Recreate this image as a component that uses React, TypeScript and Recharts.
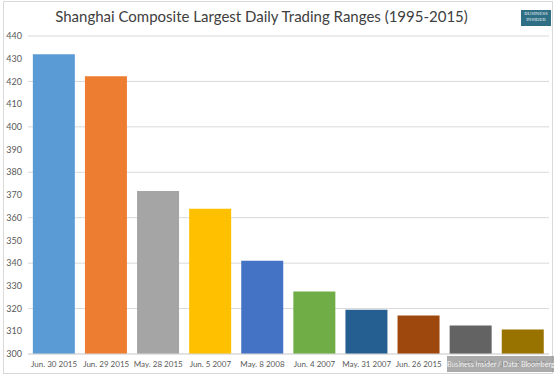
import React from "react";
import { BarChart, Bar, XAxis, YAxis, CartesianGrid, Cell } from "recharts";

const categories = [
  "Jun. 30 2015",
  "Jun. 29 2015",
  "May. 28 2015",
  "Jun. 5 2007",
  "May. 8 2008",
  "Jun. 4 2007",
  "May. 31 2007",
  "Jun. 26 2015",
  "Jun. 19 2015",
  "Jan. 19 2015",
];
const ranges = [432, 422.3, 371.8, 364, 341, 327.5, 319.5, 317, 312.6, 310.8];
const yTicks = [300, 310, 320, 330, 340, 350, 360, 370, 380, 390, 400, 410, 420, 430, 440];
const barColors = [
  "#5B9BD5",
  "#ED7D31",
  "#A5A5A5",
  "#FFC000",
  "#4472C4",
  "#70AD47",
  "#255E91",
  "#9E480E",
  "#636363",
  "#997300",
];

const data = categories.map((name, i) => ({ name, value: ranges[i] }));

const FONT = "Lato, 'Open Sans', sans-serif";

export default function App() {
  return (
    <div
      style={{
        position: "fixed",
        left: 0,
        top: 0,
        width: 560,
        height: 377,
        background: "#fff",
        fontFamily: FONT,
      }}
    >
      <div
        style={{
          position: "absolute",
          left: 3,
          top: 1,
          width: 548,
          height: 371,
          border: "1px solid #d9d9d9",
        }}
      />
      <div
        style={{
          position: "absolute",
          left: 0,
          width: 523,
          top: 7,
          textAlign: "center",
          fontSize: 15,
          color: "#404040",
        }}
      >
        Shanghai Composite Largest Daily Trading Ranges (1995-2015)
      </div>
      <div
        style={{
          position: "absolute",
          left: 521,
          top: 10,
          width: 30,
          height: 16,
          background: "#2f6f85",
          color: "#e8f0f4",
          fontFamily: "'Liberation Serif', serif",
          fontSize: 5,
          lineHeight: "5.5px",
          textAlign: "center",
          paddingTop: 1,
          boxSizing: "border-box",
        }}
      >
        BUSINESS
        <br />
        INSIDER
      </div>
      <div style={{ position: "absolute", left: 0, top: 0 }}>
        <BarChart
          width={560}
          height={377}
          data={data}
          margin={{ top: 36, right: 11, left: 0, bottom: 0 }}
          barCategoryGap="9.3%"
        >
          <CartesianGrid vertical={false} stroke="#d9d9d9" />
          <XAxis
            dataKey="name"
            height={23}
            axisLine={{ stroke: "#d9d9d9" }}
            tickLine={false}
            tickSize={0}
            tickMargin={7}
            interval={0}
            tick={{ fill: "#595959", fontSize: 8, fontFamily: FONT }}
          />
          <YAxis
            width={28}
            domain={[300, 440]}
            ticks={yTicks}
            axisLine={false}
            tickLine={false}
            tickSize={0}
            tickMargin={6}
            tick={{ fill: "#595959", fontSize: 9, fontFamily: FONT }}
          />
          <Bar dataKey="value" isAnimationActive={false}>
            {data.map((entry, index) => (
              <Cell key={`cell-${index}`} fill={barColors[index]} />
            ))}
          </Bar>
        </BarChart>
      </div>
      <div
        style={{
          position: "absolute",
          left: 447,
          top: 356,
          width: 107,
          height: 16,
          background: "rgba(150,150,150,0.8)",
          color: "#f4f4f4",
          fontSize: 7,
          lineHeight: "16px",
          textAlign: "center",
          whiteSpace: "nowrap",
          overflow: "hidden",
        }}
      >
        Business Insider / Data: Bloomberg
      </div>
    </div>
  );
}
